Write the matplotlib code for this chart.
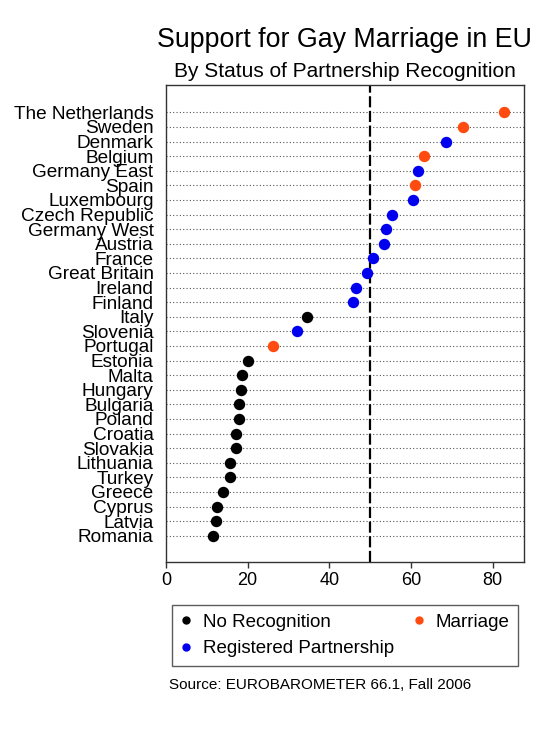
import matplotlib
matplotlib.use("Agg")
import matplotlib.pyplot as plt
from matplotlib.lines import Line2D

plt.rcParams["font.family"] = ["Liberation Sans", "DejaVu Sans"]

# countries listed top to bottom, as in the chart
countries = [
    "The Netherlands", "Sweden", "Denmark", "Belgium", "Germany East", "Spain",
    "Luxembourg", "Czech Republic", "Germany West", "Austria", "France",
    "Great Britain", "Ireland", "Finland", "Italy", "Slovenia", "Portugal",
    "Estonia", "Malta", "Hungary", "Bulgaria", "Poland", "Croatia", "Slovakia",
    "Lithuania", "Turkey", "Greece", "Cyprus", "Latvia", "Romania",
]
support = [
    82.9, 72.7, 68.5, 63.1, 61.8, 61.1, 60.4, 55.4, 54.0, 53.5, 50.7,
    49.3, 46.6, 45.7, 34.6, 32.1, 26.1, 20.1, 18.6, 18.3, 17.9, 17.8,
    17.2, 17.1, 15.8, 15.6, 14.0, 12.6, 12.3, 11.5,
]
# M = marriage, R = registered partnership, N = no recognition
status = [
    "M", "M", "R", "M", "R", "M", "R", "R", "R", "R", "R",
    "R", "R", "R", "N", "R", "M", "N", "N", "N", "N", "N",
    "N", "N", "N", "N", "N", "N", "N", "N",
]
status_labels = {"N": "No Recognition", "R": "Registered Partnership", "M": "Marriage"}
status_colors = {"N": "black", "R": "#0000ee", "M": "#ff4b0f"}
threshold = 50
xticks = [0, 20, 40, 60, 80]

fig = plt.figure(figsize=(5.5, 7.33), dpi=100)
ax = fig.add_axes([166 / 550, 1 - 562 / 733, (524 - 166) / 550, (562 - 85) / 733])

n = len(countries)
ypos = [n - i for i in range(n)]

# dotted guide line for every country row
for y in ypos:
    ax.axhline(y, color="#555555", linewidth=0.8, linestyle=(0, (1, 2)), zorder=1)

ax.axvline(threshold, color="black", linewidth=1.6, linestyle=(0, (5, 1.6)), zorder=2)

for y, v, s in zip(ypos, support, status):
    ax.plot(v, y, "o", color=status_colors[s], markersize=7.2, zorder=3)

ax.set_xlim(0, 87.7)
ax.set_ylim(1 - 1.8, n + 1.87)
ax.set_yticks(ypos)
ax.set_yticklabels(countries, fontsize=13.7)
ax.tick_params(axis="y", length=0, pad=9)
ax.set_xticks(xticks)
ax.set_xticklabels([str(t) for t in xticks], fontsize=13)
ax.tick_params(axis="x", length=4, width=1, color="#333333", pad=3)
for sp in ax.spines.values():
    sp.set_color("#333333")
    sp.set_linewidth(1)

fig.text(344 / 550, 1 - 47 / 733, "Support for Gay Marriage in EU",
         ha="center", va="baseline", fontsize=19.3)
fig.text(345 / 550, 1 - 77 / 733, "By Status of Partnership Recognition",
         ha="center", va="baseline", fontsize=15)

handles = [
    Line2D([], [], marker="o", linestyle="none", color=status_colors[k],
           markersize=5, label=status_labels[k])
    for k in ["N", "R", "M"]
]
leg = fig.legend(
    handles=handles, ncol=2, mode="expand", loc="upper left",
    bbox_to_anchor=(172 / 550, 1 - 667 / 733, (518 - 172) / 550, (667 - 605) / 733),
    fontsize=13.5, frameon=True, fancybox=False, handlelength=0.6,
    handletextpad=0.6, borderpad=0.45, labelspacing=0.5, borderaxespad=0,
)
leg.get_frame().set_edgecolor("#333333")
leg.get_frame().set_linewidth(1)

fig.text(169 / 550, 1 - 685 / 733, "Source: EUROBAROMETER 66.1, Fall 2006",
         ha="left", va="center", fontsize=11)

fig.savefig("out.png", dpi=100)
